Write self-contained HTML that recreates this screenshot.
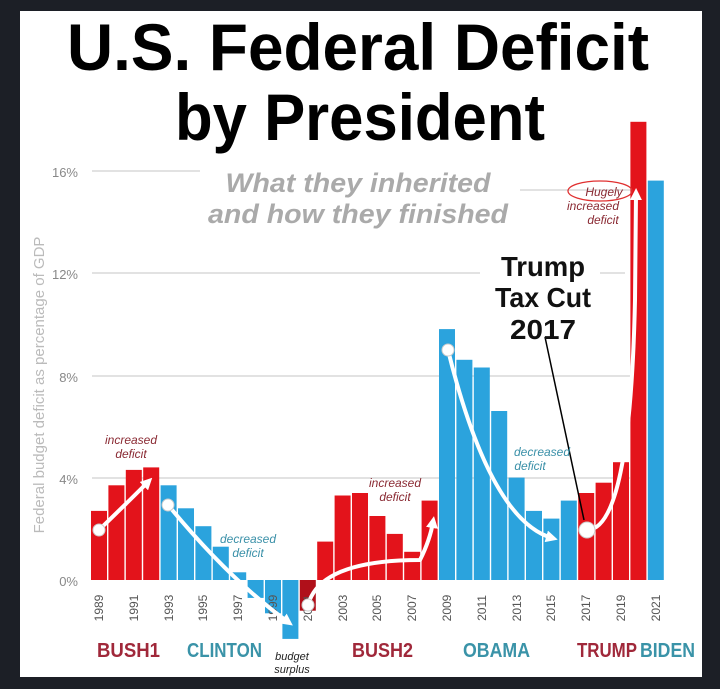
<!DOCTYPE html>
<html><head><style>
html,body{margin:0;padding:0;background:#1c1f26;}
svg{display:block;}
</style></head><body>
<svg width="720" height="689" viewBox="0 0 720 689" xmlns="http://www.w3.org/2000/svg" font-family="Liberation Sans, sans-serif">
<defs>
<marker id="ah" viewBox="0 0 10 10" refX="5" refY="5" markerWidth="3" markerHeight="3" orient="auto"><path d="M0 0 L10 5 L0 10 z" fill="#fff"/></marker>
</defs>
<rect x="0" y="0" width="720" height="689" fill="#1c1f26"/>
<rect x="20" y="11" width="682" height="666" fill="#fff"/>
<g font-weight="bold" fill="#000" text-anchor="middle">
<text x="358" y="70" font-size="66" textLength="582" lengthAdjust="spacingAndGlyphs">U.S. Federal Deficit</text>
<text x="360" y="140" font-size="66" textLength="370" lengthAdjust="spacingAndGlyphs">by President</text>
</g>
<g stroke="#d8d8d8" stroke-width="1.5">
<line x1="92" y1="171" x2="200" y2="171"/><line x1="520" y1="190" x2="640" y2="190"/>
<line x1="92" y1="273" x2="480" y2="273"/><line x1="600" y1="273" x2="625" y2="273"/>
<line x1="92" y1="376" x2="630" y2="376"/>
<line x1="92" y1="478" x2="630" y2="478"/>
</g>
<g fill="#888" font-size="13" text-anchor="end">
<text x="78" y="177">16%</text><text x="78" y="279">12%</text><text x="78" y="382">8%</text><text x="78" y="484">4%</text><text x="78" y="586">0%</text>
</g>
<text transform="translate(44,385) rotate(-90)" text-anchor="middle" fill="#bbb" font-size="15">Federal budget deficit as percentage of GDP</text>
<g font-style="italic" font-weight="bold" fill="#aaa" font-size="27" text-anchor="middle">
<text x="358" y="192" textLength="265" lengthAdjust="spacingAndGlyphs">What they inherited</text>
<text x="358" y="223" textLength="300" lengthAdjust="spacingAndGlyphs">and how they finished</text>
</g>
<g>
<rect x="91" y="510.9" width="16" height="69.1" fill="#e3131b"/>
<rect x="108.4" y="485.3" width="16" height="94.7" fill="#e3131b"/>
<rect x="125.8" y="469.9" width="16" height="110.1" fill="#e3131b"/>
<rect x="143.2" y="467.4" width="16" height="112.6" fill="#e3131b"/>
<rect x="160.6" y="485.3" width="16" height="94.7" fill="#2ba3dd"/>
<rect x="178" y="508.3" width="16" height="71.7" fill="#2ba3dd"/>
<rect x="195.4" y="526.2" width="16" height="53.8" fill="#2ba3dd"/>
<rect x="212.8" y="546.7" width="16" height="33.3" fill="#2ba3dd"/>
<rect x="230.2" y="572.3" width="16" height="7.7" fill="#2ba3dd"/>
<rect x="247.6" y="580" width="16" height="17.9" fill="#2ba3dd"/>
<rect x="265" y="580" width="16" height="33.3" fill="#2ba3dd"/>
<rect x="282.4" y="580" width="16" height="58.9" fill="#2ba3dd"/>
<rect x="299.8" y="580" width="16" height="30.7" fill="#b0101a"/>
<rect x="317.2" y="541.6" width="16" height="38.4" fill="#e3131b"/>
<rect x="334.6" y="495.5" width="16" height="84.5" fill="#e3131b"/>
<rect x="352" y="493" width="16" height="87" fill="#e3131b"/>
<rect x="369.4" y="516" width="16" height="64" fill="#e3131b"/>
<rect x="386.8" y="533.9" width="16" height="46.1" fill="#e3131b"/>
<rect x="404.2" y="551.8" width="16" height="28.2" fill="#e3131b"/>
<rect x="421.6" y="500.6" width="16" height="79.4" fill="#e3131b"/>
<rect x="439" y="329.1" width="16" height="250.9" fill="#2ba3dd"/>
<rect x="456.4" y="359.8" width="16" height="220.2" fill="#2ba3dd"/>
<rect x="473.8" y="367.5" width="16" height="212.5" fill="#2ba3dd"/>
<rect x="491.2" y="411" width="16" height="169" fill="#2ba3dd"/>
<rect x="508.6" y="477.6" width="16" height="102.4" fill="#2ba3dd"/>
<rect x="526" y="510.9" width="16" height="69.1" fill="#2ba3dd"/>
<rect x="543.4" y="518.6" width="16" height="61.4" fill="#2ba3dd"/>
<rect x="560.8" y="500.6" width="16" height="79.4" fill="#2ba3dd"/>
<rect x="578.2" y="493" width="16" height="87" fill="#e3131b"/>
<rect x="595.6" y="482.7" width="16" height="97.3" fill="#e3131b"/>
<rect x="613" y="462.2" width="16" height="117.8" fill="#e3131b"/>
<rect x="630.4" y="121.8" width="16" height="458.2" fill="#e3131b"/>
<rect x="647.8" y="180.6" width="16" height="399.4" fill="#2ba3dd"/>
</g>
<g font-size="12" fill="#555" text-anchor="middle">
<text transform="translate(103,608) rotate(-90)">1989</text>
<text transform="translate(138,608) rotate(-90)">1991</text>
<text transform="translate(173,608) rotate(-90)">1993</text>
<text transform="translate(207,608) rotate(-90)">1995</text>
<text transform="translate(242,608) rotate(-90)">1997</text>
<text transform="translate(277,608) rotate(-90)">1999</text>
<text transform="translate(312,608) rotate(-90)">2001</text>
<text transform="translate(347,608) rotate(-90)">2003</text>
<text transform="translate(381,608) rotate(-90)">2005</text>
<text transform="translate(416,608) rotate(-90)">2007</text>
<text transform="translate(451,608) rotate(-90)">2009</text>
<text transform="translate(486,608) rotate(-90)">2011</text>
<text transform="translate(521,608) rotate(-90)">2013</text>
<text transform="translate(555,608) rotate(-90)">2015</text>
<text transform="translate(590,608) rotate(-90)">2017</text>
<text transform="translate(625,608) rotate(-90)">2019</text>
<text transform="translate(660,608) rotate(-90)">2021</text>
</g>
<g fill="none" stroke="#fff" stroke-width="4" stroke-linecap="round" marker-end="url(#ah)">
<path d="M99 530 Q130 500 148 482"/>
<path d="M168 505 Q230 580 288 622"/>
<path d="M308 605 Q320 560 420 560 Q430 540 433 522"/>
<path d="M448 350 Q490 520 552 538"/>
<path d="M587 530 Q630 530 635 300 L636 194"/>
</g>
<g fill="#fff" stroke="#ccc" stroke-width="1">
<circle cx="99" cy="530" r="6"/><circle cx="168" cy="505" r="6"/><circle cx="308" cy="605" r="6"/><circle cx="448" cy="350" r="6"/><circle cx="587" cy="530" r="8"/>
</g>
<line x1="545" y1="337" x2="584" y2="520" stroke="#000" stroke-width="1.5"/>
<g font-style="italic" font-size="12" text-anchor="middle">
<text x="131" y="444" fill="#8a2a33">increased</text><text x="131" y="458" fill="#8a2a33">deficit</text>
<text x="248" y="543" fill="#3a90a8">decreased</text><text x="248" y="557" fill="#3a90a8">deficit</text>
<text x="395" y="487" fill="#8a2a33">increased</text><text x="395" y="501" fill="#8a2a33">deficit</text>
<text x="542" y="456" fill="#3a90a8">decreased</text><text x="530" y="470" fill="#3a90a8">deficit</text>
<text x="604" y="196" fill="#8a2a33">Hugely</text><text x="593" y="210" fill="#8a2a33">increased</text><text x="603" y="224" fill="#8a2a33">deficit</text>
<text x="292" y="660" fill="#222" font-size="11">budget</text><text x="292" y="673" fill="#222" font-size="11">surplus</text>
</g>
<ellipse cx="600" cy="191" rx="32" ry="10" fill="none" stroke="#e03030" stroke-width="1.3"/>
<g font-weight="bold" font-size="28" text-anchor="middle" fill="#111">
<text x="543" y="276" textLength="84" lengthAdjust="spacingAndGlyphs">Trump</text>
<text x="543" y="307" textLength="96" lengthAdjust="spacingAndGlyphs">Tax Cut</text>
<text x="543" y="339" textLength="66" lengthAdjust="spacingAndGlyphs">2017</text>
</g>
<g font-weight="bold" font-size="20">
<text x="97" y="657" fill="#a0283a" textLength="63" lengthAdjust="spacingAndGlyphs">BUSH1</text>
<text x="187" y="657" fill="#3a93a8" textLength="75" lengthAdjust="spacingAndGlyphs">CLINTON</text>
<text x="352" y="657" fill="#a0283a" textLength="61" lengthAdjust="spacingAndGlyphs">BUSH2</text>
<text x="463" y="657" fill="#3a93a8" textLength="67" lengthAdjust="spacingAndGlyphs">OBAMA</text>
<text x="577" y="657" fill="#a0283a" textLength="60" lengthAdjust="spacingAndGlyphs">TRUMP</text>
<text x="640" y="657" fill="#3a93a8" textLength="55" lengthAdjust="spacingAndGlyphs">BIDEN</text>
</g>
</svg>
</body></html>
